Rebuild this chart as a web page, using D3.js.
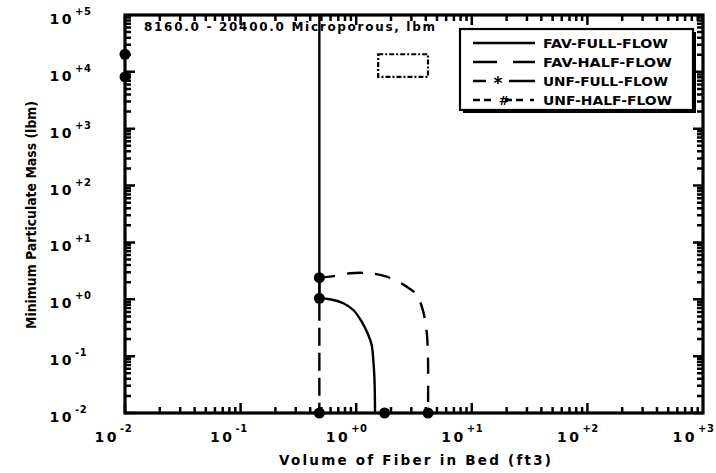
<!DOCTYPE html>
<html>
<head>
<meta charset="utf-8">
<script src="https://cdn.jsdelivr.net/npm/d3@7"></script>
<style>
  html, body { margin: 0; padding: 0; background: #fff; }
  svg { display: block; }
  text { font-family: "DejaVu Sans", "Liberation Sans", sans-serif; font-weight: bold; fill: #000; }
</style>
</head>
<body>
<svg id="chart" width="716" height="473"></svg>
<script>
// ---------------- data ----------------
const xDomain = [0.01, 1000];
const yDomain = [0.01, 1e5];
const xTickExponents = [-2, -1, 0, 1, 2, 3];
const yTickExponents = [-2, -1, 0, 1, 2, 3, 4, 5];

const seriesNames = ["FAV-FULL-FLOW", "FAV-HALF-FLOW", "UNF-FULL-FLOW", "UNF-HALF-FLOW"];

// FAV-FULL-FLOW: vertical stem then decay curve
const favFullStemVolume = [0.48, 0.48];
const favFullStemMass = [1e5, 1.04];
const favFullCurveVolume = [0.48, 0.593, 0.773, 0.944, 1.116, 1.273, 1.361, 1.406, 1.44, 1.455];
const favFullCurveMass = [1.04, 1.0, 0.851, 0.648, 0.404, 0.236, 0.157, 0.0855, 0.038, 0.01];

// FAV-HALF-FLOW: vertical stem then decay curve
const favHalfStemVolume = [0.48, 0.48];
const favHalfStemMass = [2.4, 0.01];
const favHalfCurveVolume = [0.48, 0.593, 0.883, 1.316, 1.835, 2.735, 3.34, 3.80, 4.07, 4.18, 4.18];
const favHalfCurveMass = [2.4, 2.5, 2.87, 2.87, 2.5, 1.67, 1.19, 0.605, 0.269, 0.0855, 0.01];

// solid markers
const markerVolume = [0.01, 0.01, 0.48, 0.48, 0.48, 1.76, 4.18];
const markerMass = [20400, 8160, 2.4, 1.04, 0.01, 0.01, 0.01];

// dash-dot range box
const boxVolume = [1.55, 4.18];
const boxMass = [8160, 20400];

const titleText = "8160.0 - 20400.0 Microporous, lbm";
const xTitle = "Volume of Fiber in Bed (ft3)";
const yTitle = "Minimum Particulate Mass (lbm)";

// ---------------- layout ----------------
const svg = d3.select("#chart");
const L = 125, R = 703, T = 15, B = 413;

const x = d3.scaleLog().domain(xDomain).range([L, R]);
const y = d3.scaleLog().domain(yDomain).range([B, T]);

const zip = (xs, ys) => xs.map((v, i) => [v, ys[i]]);
const lin = d3.line().x(d => x(d[0])).y(d => y(d[1]));
const smooth = d3.line().x(d => x(d[0])).y(d => y(d[1])).curve(d3.curveCatmullRom.alpha(0.5));

// ---------------- ticks (inward, all four sides) ----------------
const xTicks = [];
for (let e = xTickExponents[0]; e < xTickExponents[xTickExponents.length - 1]; e++)
  for (let k = 1; k <= 9; k++) xTicks.push({ v: k * Math.pow(10, e), major: k === 1 });
const yTicks = [];
for (let e = yTickExponents[0]; e < yTickExponents[yTickExponents.length - 1]; e++)
  for (let k = 1; k <= 9; k++) yTicks.push({ v: k * Math.pow(10, e), major: k === 1 });

let tickPath = "";
xTicks.forEach(t => {
  const px = x(t.v), len = t.major ? 10 : 6;
  tickPath += `M${px},${B}V${B - len}M${px},${T}V${T + len}`;
});
yTicks.forEach(t => {
  const py = y(t.v), len = t.major ? 10 : 6;
  tickPath += `M${L},${py}H${L + len}M${R},${py}H${R - len}`;
});
svg.append("path").attr("d", tickPath).attr("fill", "none")
  .attr("stroke", "#000").attr("stroke-width", 2.5);

// frame
svg.append("rect").attr("x", L).attr("y", T).attr("width", R - L).attr("height", B - T)
  .attr("fill", "none").attr("stroke", "#000").attr("stroke-width", 3.2);

// tick labels
const expStr = e => (e < 0 ? "-" : "+") + Math.abs(e);
xTickExponents.forEach(e => {
  const px = x(Math.pow(10, e));
  svg.append("text").attr("x", px - 6).attr("y", 442).attr("text-anchor", "end")
    .attr("font-size", 14).attr("letter-spacing", 2.5).text("10");
  svg.append("text").attr("x", px - 5).attr("y", 432).attr("text-anchor", "start")
    .attr("font-size", 10).attr("letter-spacing", 0.5).text(expStr(e));
});
yTickExponents.forEach(e => {
  const py = y(Math.pow(10, e));
  svg.append("text").attr("x", 74).attr("y", py + 9).attr("text-anchor", "end")
    .attr("font-size", 14).attr("letter-spacing", 2.5).text("10");
  svg.append("text").attr("x", 75).attr("y", py).attr("text-anchor", "start")
    .attr("font-size", 10).attr("letter-spacing", 0.5).text(expStr(e));
});

// axis titles
svg.append("text").attr("x", 415).attr("y", 465).attr("text-anchor", "middle")
  .attr("font-size", 13.5).attr("textLength", 272).attr("lengthAdjust", "spacing").text(xTitle);
svg.append("text").attr("transform", "translate(36,215) rotate(-90)").attr("text-anchor", "middle")
  .attr("font-size", 14).attr("textLength", 228).attr("lengthAdjust", "spacingAndGlyphs")
  .text(yTitle);

// title inside plot
svg.append("text").attr("x", 144).attr("y", 31).attr("font-size", 12)
  .attr("textLength", 291).attr("lengthAdjust", "spacing").text(titleText);

// ---------------- series ----------------
const plot = svg.append("g");
plot.append("path").datum(zip(favHalfStemVolume, favHalfStemMass)).attr("d", lin)
  .attr("fill", "none").attr("stroke", "#000").attr("stroke-width", 2.4).attr("stroke-dasharray", "18,7");
plot.append("path").datum(zip(favHalfCurveVolume, favHalfCurveMass)).attr("d", smooth)
  .attr("fill", "none").attr("stroke", "#000").attr("stroke-width", 2.4).attr("stroke-dasharray", "16,12");
plot.append("path").datum(zip(favFullStemVolume, favFullStemMass)).attr("d", lin)
  .attr("fill", "none").attr("stroke", "#000").attr("stroke-width", 2.4);
plot.append("path").datum(zip(favFullCurveVolume, favFullCurveMass)).attr("d", smooth)
  .attr("fill", "none").attr("stroke", "#000").attr("stroke-width", 2.4);

plot.selectAll("circle.m").data(zip(markerVolume, markerMass)).enter().append("circle")
  .attr("class", "m").attr("cx", d => x(d[0])).attr("cy", d => y(d[1])).attr("r", 5.5).attr("fill", "#000");

plot.append("rect").attr("x", x(boxVolume[0])).attr("y", y(boxMass[1]))
  .attr("width", x(boxVolume[1]) - x(boxVolume[0])).attr("height", y(boxMass[0]) - y(boxMass[1]))
  .attr("fill", "none").attr("stroke", "#000").attr("stroke-width", 2.2).attr("stroke-dasharray", "5,2,2,2");

// ---------------- legend ----------------
const lg = svg.append("g");
lg.append("rect").attr("x", 463).attr("y", 32).attr("width", 233).attr("height", 81).attr("fill", "#000");
lg.append("rect").attr("x", 460).attr("y", 29).attr("width", 233).attr("height", 81)
  .attr("fill", "#fff").attr("stroke", "#000").attr("stroke-width", 2.2);
const rowY = [43, 62, 81, 100];
const lx0 = 473, lx1 = 535;
const lstroke = (sel) => sel.attr("stroke", "#000").attr("stroke-width", 2.6);
lg.append("line").attr("x1", lx0).attr("x2", lx1).attr("y1", rowY[0]).attr("y2", rowY[0]).call(lstroke);
lg.append("line").attr("x1", lx0).attr("x2", lx1).attr("y1", rowY[1]).attr("y2", rowY[1]).call(lstroke)
  .attr("stroke-dasharray", "24,16");
lg.append("line").attr("x1", lx0).attr("x2", lx1).attr("y1", rowY[2]).attr("y2", rowY[2]).call(lstroke)
  .attr("stroke-dasharray", "13,23,26");
lg.append("text").attr("x", 498).attr("y", rowY[2] + 8).attr("text-anchor", "middle")
  .attr("font-size", 17).text("*");
lg.append("line").attr("x1", lx0).attr("x2", lx1).attr("y1", rowY[3]).attr("y2", rowY[3]).call(lstroke)
  .attr("stroke-dasharray", "7,4,7,14,7,4,7");
lg.append("text").attr("x", 504).attr("y", rowY[3] + 4.5).attr("text-anchor", "middle")
  .attr("font-size", 12.5).text("#");
seriesNames.forEach((n, i) => {
  lg.append("text").attr("x", 543).attr("y", rowY[i] + 5).attr("font-size", 13)
    .attr("textLength", i % 2 === 0 ? 125 : 129).attr("lengthAdjust", "spacingAndGlyphs").text(n);
});
</script>
</body>
</html>
